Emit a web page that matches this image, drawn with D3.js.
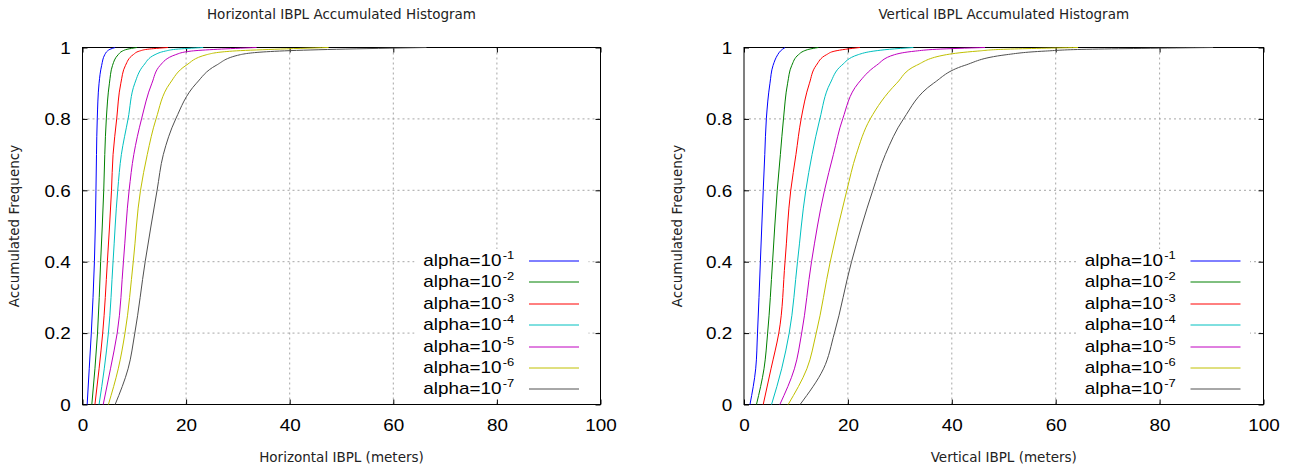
<!DOCTYPE html>
<html><head><meta charset="utf-8">
<script src="https://cdn.jsdelivr.net/npm/d3@7"></script>
<style>body{margin:0;background:#fff} svg{display:block}</style>
</head><body><svg id="c" width="1292" height="470"></svg>
<script>
// ---- data ----
const freqLevels = [0, 0.1, 0.2, 0.4, 0.6, 0.7, 0.8, 0.9, 0.95, 0.98, 0.99, 0.995, 1];
const alphaExponents = ["-1", "-2", "-3", "-4", "-5", "-6", "-7"];
const xTicks = [0, 20, 40, 60, 80, 100];
const yTicks = [0, 0.2, 0.4, 0.6, 0.8, 1];

// Horizontal IBPL (meters) reached at each freq level
const hAlpha1 = [0.9, 1.3, 1.7, 2.3, 2.6, 2.7, 2.85, 3.2, 3.7, 4.3, 4.8, 5.3, 6.3];
const hAlpha2 = [1.8, 2.4, 2.9, 3.5, 4.1, 4.3, 4.6, 5.2, 5.8, 6.9, 7.7, 8.6, 10.5];
const hAlpha3 = [2.4, 3.2, 3.9, 4.8, 5.6, 5.9, 6.6, 7.4, 8.3, 9.8, 11.0, 12.5, 16.5];
const hAlpha4 = [3.2, 4.2, 5.0, 5.9, 6.8, 7.5, 8.8, 10.1, 11.8, 14.0, 16.0, 18.0, 23.3];
const hAlpha5 = [4.0, 5.4, 6.7, 7.9, 9.0, 9.9, 11.4, 13.4, 15.0, 18.0, 21.0, 26.0, 33.6];
const hAlpha6 = [5.0, 6.9, 8.2, 9.8, 11.2, 12.5, 14.2, 16.9, 20.0, 24.0, 29.0, 37.0, 47.5];
const hAlpha7 = [6.3, 8.8, 10.1, 12.1, 14.4, 15.6, 18.0, 22.0, 25.8, 30.5, 38.0, 49.0, 66.4];

// Vertical IBPL (meters) reached at each freq level
const vAlpha1 = [1.15, 2.25, 2.6, 3.15, 3.7, 4.0, 4.3, 5.0, 5.6, 6.5, 7.0, 7.4, 7.9];
const vAlpha2 = [2.4, 3.85, 4.55, 5.5, 6.4, 7.0, 7.6, 8.4, 9.2, 10.5, 11.5, 12.5, 14.3];
const vAlpha3 = [3.7, 5.2, 6.7, 7.9, 9.0, 10.0, 11.0, 12.6, 13.9, 15.9, 17.5, 19.5, 22.3];
const vAlpha4 = [5.3, 7.25, 8.7, 10.3, 11.9, 13.1, 14.6, 16.6, 18.8, 22.0, 25.0, 28.0, 32.6];
const vAlpha5 = [6.9, 9.7, 11.1, 13.0, 15.5, 17.2, 19.0, 22.0, 25.5, 29.0, 33.0, 37.0, 46.4];
const vAlpha6 = [8.5, 12.1, 13.9, 16.6, 19.8, 21.6, 24.3, 29.4, 33.2, 39.0, 45.0, 50.0, 64.3];
const vAlpha7 = [10.8, 15.3, 17.4, 20.7, 24.8, 27.2, 30.7, 36.5, 42.5, 50.6, 58.0, 66.0, 90.3];

const colors = ["#0000ff", "#008000", "#ff0000", "#00c0c0", "#c000c0", "#c0c000", "#505050"];

const panels = [
  { title: "Horizontal IBPL Accumulated Histogram", xlabel: "Horizontal IBPL (meters)",
    series: [hAlpha1, hAlpha2, hAlpha3, hAlpha4, hAlpha5, hAlpha6, hAlpha7], x0: 82.5, x1: 600.5, ylab: 19 },
  { title: "Vertical IBPL Accumulated Histogram", xlabel: "Vertical IBPL (meters)",
    series: [vAlpha1, vAlpha2, vAlpha3, vAlpha4, vAlpha5, vAlpha6, vAlpha7], x0: 744, x1: 1263.5, ylab: 682 }
];

const svg = d3.select("#c");
svg.append("rect").attr("width", 1292).attr("height", 470).attr("fill", "#fff");

const TICKFONT = "'Liberation Sans', Arial, sans-serif";
const LABFONT = "'DejaVu Sans', sans-serif";
const SX = 1.18;

function drawPanel(p) {
  const x = d3.scaleLinear().domain([0, 100]).range([p.x0, p.x1]);
  const y = d3.scaleLinear().domain([0, 1]).range([404.5, 47.5]);
  const g = svg.append("g");

  // grid
  g.append("g").selectAll("line").data(xTicks.filter(v => v > 0 && v < 100)).join("line")
    .attr("x1", d => x(d)).attr("x2", d => x(d)).attr("y1", y(0)).attr("y2", y(1))
    .attr("stroke", "#a6a6a6").attr("stroke-dasharray", "2,3");
  g.append("g").selectAll("line").data(yTicks.filter(v => v > 0 && v < 1)).join("line")
    .attr("x1", x(0)).attr("x2", x(100)).attr("y1", d => y(d)).attr("y2", d => y(d))
    .attr("stroke", "#a6a6a6").attr("stroke-dasharray", "2,3");

  // legend background
  g.append("rect").attr("x", p.x0 + 332).attr("y", 249).attr("width", 174).attr("height", 152).attr("fill", "#fff");

  // border
  g.append("rect").attr("x", x(0)).attr("y", y(1)).attr("width", x(100) - x(0)).attr("height", y(0) - y(1))
    .attr("fill", "none").attr("stroke", "#000");

  // axes
  const ax = g.append("g").attr("transform", `translate(0,${y(0)})`)
    .call(d3.axisBottom(x).tickValues(xTicks).tickSize(-5).tickPadding(15).tickFormat(d3.format("d")));
  const axT = g.append("g").attr("transform", `translate(0,${y(1)})`)
    .call(d3.axisTop(x).tickValues(xTicks).tickSize(-5).tickFormat(""));
  const ay = g.append("g").attr("transform", `translate(${x(0)},0)`)
    .call(d3.axisLeft(y).tickValues(yTicks).tickSize(-5).tickPadding(10).tickFormat(d => d3.format("")(d)));
  const ayR = g.append("g").attr("transform", `translate(${x(100)},0)`)
    .call(d3.axisRight(y).tickValues(yTicks).tickSize(-5).tickFormat(""));
  [ax, axT, ay, ayR].forEach(a => {
    a.select(".domain").remove();
    a.selectAll(".tick line").attr("stroke", "#000");
    a.selectAll("text").attr("font-family", TICKFONT).attr("font-size", 16).attr("fill", "#000")
      .attr("transform", `scale(${SX},1)`);
  });
  ay.selectAll("text").attr("dy", "0.36em");

  // curves
  const line = d3.line().x(d => x(d[0])).y(d => y(d[1])).curve(d3.curveMonotoneY);
  p.series.forEach((s, i) => {
    const pts = s.map((v, k) => [v, freqLevels[k]]);
    g.append("path").attr("d", line(pts)).attr("fill", "none")
      .attr("stroke", colors[i]).attr("stroke-width", 1);
  });

  // legend
  alphaExponents.forEach((e, i) => {
    const ry = Math.round(261 + i * 21.4);
    g.append("line").attr("x1", p.x0 + 446.5).attr("x2", p.x0 + 496.5).attr("y1", ry).attr("y2", ry)
      .attr("stroke", colors[i]).attr("stroke-width", 1);
    const t = g.append("text").attr("transform", `translate(${p.x0 + 340.8},${ry + 4.5}) scale(${SX},1)`)
      .attr("font-family", TICKFONT).attr("font-size", 16).attr("fill", "#000");
    t.append("tspan").text("alpha=10");
    t.append("tspan").attr("dx", 1).attr("dy", -7).attr("font-size", 11).text(e);
  });

  // titles / labels
  const cx = (p.x0 + p.x1) / 2;
  g.append("text").attr("x", cx).attr("y", 19).attr("text-anchor", "middle")
    .attr("font-family", LABFONT).attr("font-size", 13.5).attr("fill", "#222").text(p.title);
  g.append("text").attr("x", cx).attr("y", 462).attr("text-anchor", "middle")
    .attr("font-family", LABFONT).attr("font-size", 13.5).attr("fill", "#222").text(p.xlabel);
  g.append("text").attr("transform", `translate(${p.ylab},226) rotate(-90)`).attr("text-anchor", "middle")
    .attr("font-family", LABFONT).attr("font-size", 13.5).attr("fill", "#222").text("Accumulated Frequency");
}

panels.forEach(drawPanel);
</script>
</body></html>
